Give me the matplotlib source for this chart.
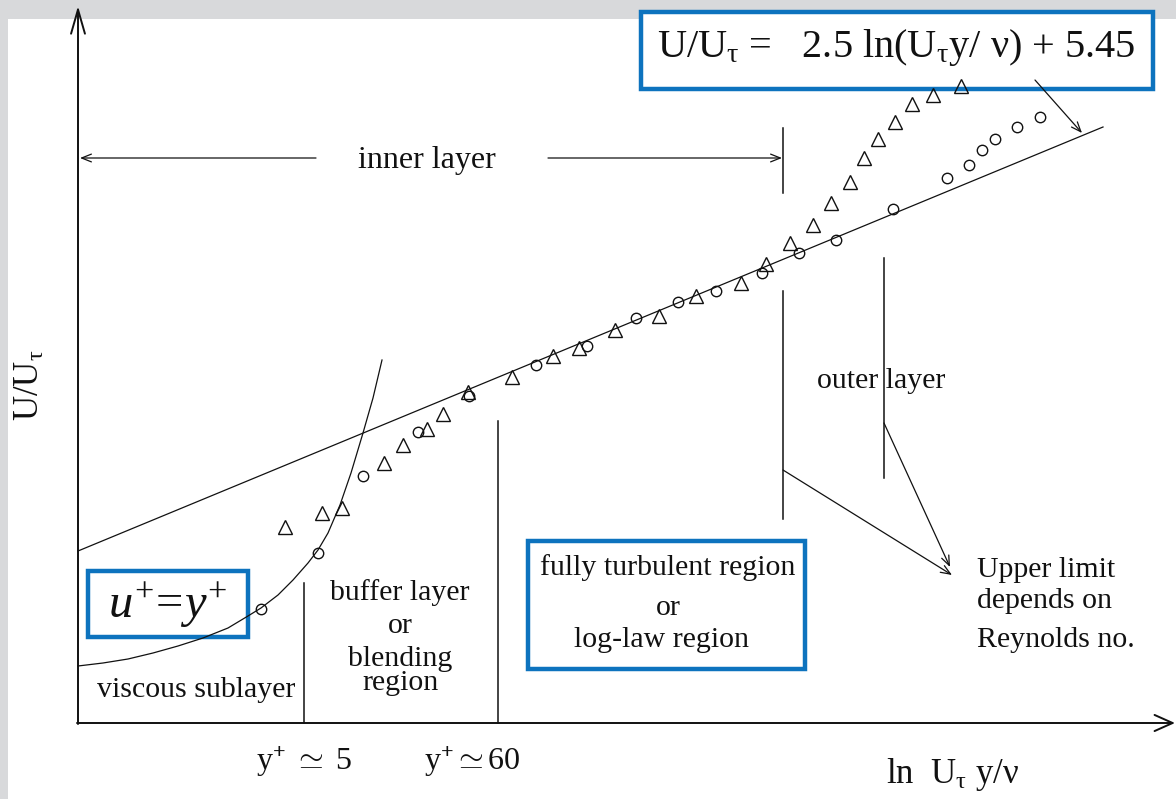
import matplotlib
matplotlib.use('Agg')
import matplotlib.pyplot as plt
from matplotlib.patches import Rectangle

plt.rcParams['font.family'] = ['Liberation Serif', 'DejaVu Serif']
plt.rcParams['mathtext.fontset'] = 'custom'
plt.rcParams['mathtext.rm'] = 'Liberation Serif'
plt.rcParams['mathtext.it'] = 'Liberation Serif:italic'
plt.rcParams['mathtext.bf'] = 'Liberation Serif:bold'

# ---- data (chart units: origin at the axes corner) ----
tri_x = [207, 244, 264, 306, 325, 349, 365, 390, 434, 475, 501, 537, 581, 618,
         663, 688, 712, 735, 753, 772, 786, 800, 817, 834, 855, 883]
tri_y = [196, 210, 215, 260, 278, 294, 309, 331, 346, 367, 375, 393, 407, 427,
         440, 459, 480, 498, 520, 541, 565, 584, 601, 619, 628, 637]
circ_x = [183, 240, 285, 340, 391, 458, 509, 558, 600, 638, 684, 721, 758, 815,
          869, 891, 904, 917, 939, 962]
circ_y = [114, 170, 247, 291, 327, 358, 377, 405, 421, 432, 450, 470, 483, 514,
          545, 558, 573, 584, 596, 606]
visc_x = [0, 25, 50, 75, 100, 125, 150, 170, 183, 200, 215, 230, 240, 250,
          262, 273, 285, 295, 304]
visc_y = [57, 60, 64, 70, 77, 85, 95, 107, 115, 128, 143, 160, 173, 190,
          218, 250, 290, 325, 363]
log_x = [0, 1025]
log_y = [172, 596]

BLUE = '#0d73be'
INK = '#111111'

fig = plt.figure(figsize=(11.76, 7.99), dpi=100)
fig.patch.set_facecolor('#d8d9db')
ax = fig.add_axes([0, 0, 1, 1])
ax.set_xlim(-78, 1098)
ax.set_ylim(-76, 723)
ax.axis('off')

ax.add_patch(Rectangle((-70, -76), 1168, 780, facecolor='white',
                       edgecolor='none', zorder=0))

# axes with open arrowheads
ax.annotate('', xy=(0, 717), xytext=(0, -1),
            arrowprops=dict(arrowstyle='->,head_length=0.87,head_width=0.25',
                            lw=1.4, color=INK, mutation_scale=20,
                            shrinkA=0, shrinkB=0))
ax.annotate('', xy=(1097, 0), xytext=(-1, 0),
            arrowprops=dict(arrowstyle='->,head_length=0.65,head_width=0.29',
                            lw=1.4, color=INK, mutation_scale=20,
                            shrinkA=0, shrinkB=0))

# curves
ax.plot(log_x, log_y, color=INK, lw=0.9, zorder=2)
ax.plot(visc_x, visc_y, color=INK, lw=0.9, zorder=2, solid_joinstyle='round')

# markers
ax.plot(tri_x, tri_y, linestyle='none', marker='^', ms=10, mfc='none',
        mec=INK, mew=1.0, zorder=4)
ax.plot(circ_x, circ_y, linestyle='none', marker='o', ms=7.5, mfc='none',
        mec=INK, mew=1.0, zorder=4)

# region dividers
seg = dict(color=INK, lw=1.1, zorder=2)
ax.plot([226, 226], [0, 140], **seg)
ax.plot([420, 420], [0, 302], **seg)
ax.plot([705, 705], [204, 432], **seg)
ax.plot([705, 705], [530, 595], **seg)
ax.plot([806, 806], [245, 465], **seg)

small = dict(arrowstyle='->,head_length=0.5,head_width=0.2', lw=0.9,
             color=INK, mutation_scale=14, shrinkA=0, shrinkB=0)
ax.annotate('', xy=(2, 565), xytext=(238, 565), arrowprops=small)
ax.annotate('', xy=(704, 565), xytext=(470, 565), arrowprops=small)
ax.annotate('', xy=(874, 148), xytext=(705, 253), arrowprops=small)
ax.annotate('', xy=(872, 156), xytext=(806, 300), arrowprops=small)
ax.annotate('', xy=(1004, 590), xytext=(957, 643), arrowprops=small, zorder=5)

# blue boxes
box = dict(facecolor='white', edgecolor=BLUE, lw=3.2, zorder=1)
ax.add_patch(Rectangle((563, 634), 512, 77, **box))
ax.add_patch(Rectangle((10, 86), 160, 66, **box))
ax.add_patch(Rectangle((450, 54), 277, 128, **box))

fs = 21.5
t = dict(fontsize=fs, color=INK, va='baseline', zorder=6)
ax.text(349, 555, 'inner layer', ha='center', fontsize=23, color=INK,
        va='baseline', zorder=6)
ax.text(803, 335, 'outer layer', ha='center', **t)
ax.text(118, 26, 'viscous sublayer', ha='center', **t)
ax.text(322, 123, 'buffer layer', ha='center', **t)
ax.text(322, 90, 'or', ha='center', **t)
ax.text(322, 57, 'blending', ha='center', **t)
ax.text(322, 33, 'region', ha='center', **t)
ax.text(590, 148, 'fully turbulent region', ha='center', **t)
ax.text(590, 108, 'or', ha='center', **t)
ax.text(584, 76, 'log-law region', ha='center', **t)
ax.text(899, 146, 'Upper limit', ha='left', **t)
ax.text(899, 115, 'depends on', ha='left', **t)
ax.text(899, 76, 'Reynolds no.', ha='left', **t)
ax.text(226, -47, r'y$^{\mathbf{+}}$ $\simeq$ 5', ha='center', fontsize=23,
        color=INK, va='baseline')
ax.text(394, -47, r'y$^{\mathbf{+}}$$\simeq$60', ha='center', fontsize=23,
        color=INK, va='baseline')
ax.text(875, -60, r'ln  U$_{\mathrm{τ}}$ y/ν', ha='center', fontsize=25,
        color=INK, va='baseline')
ax.text(-48, 338, r'U/U$_{\mathrm{τ}}$', ha='center', va='center',
        rotation=90, fontsize=25, color=INK)
ax.text(818, 666, r'U/U$_{\mathrm{τ}}$ =   2.5 ln(U$_{\mathrm{τ}}$y/ ν) + 5.45',
        ha='center', va='baseline', fontsize=29, color=INK, zorder=6)
ax.text(90, 105, r'$u^{+}\!=\!y^{+}$', ha='center', va='baseline',
        fontsize=35, color=INK, zorder=6)

fig.savefig('out.png', dpi=100, facecolor=fig.get_facecolor())
